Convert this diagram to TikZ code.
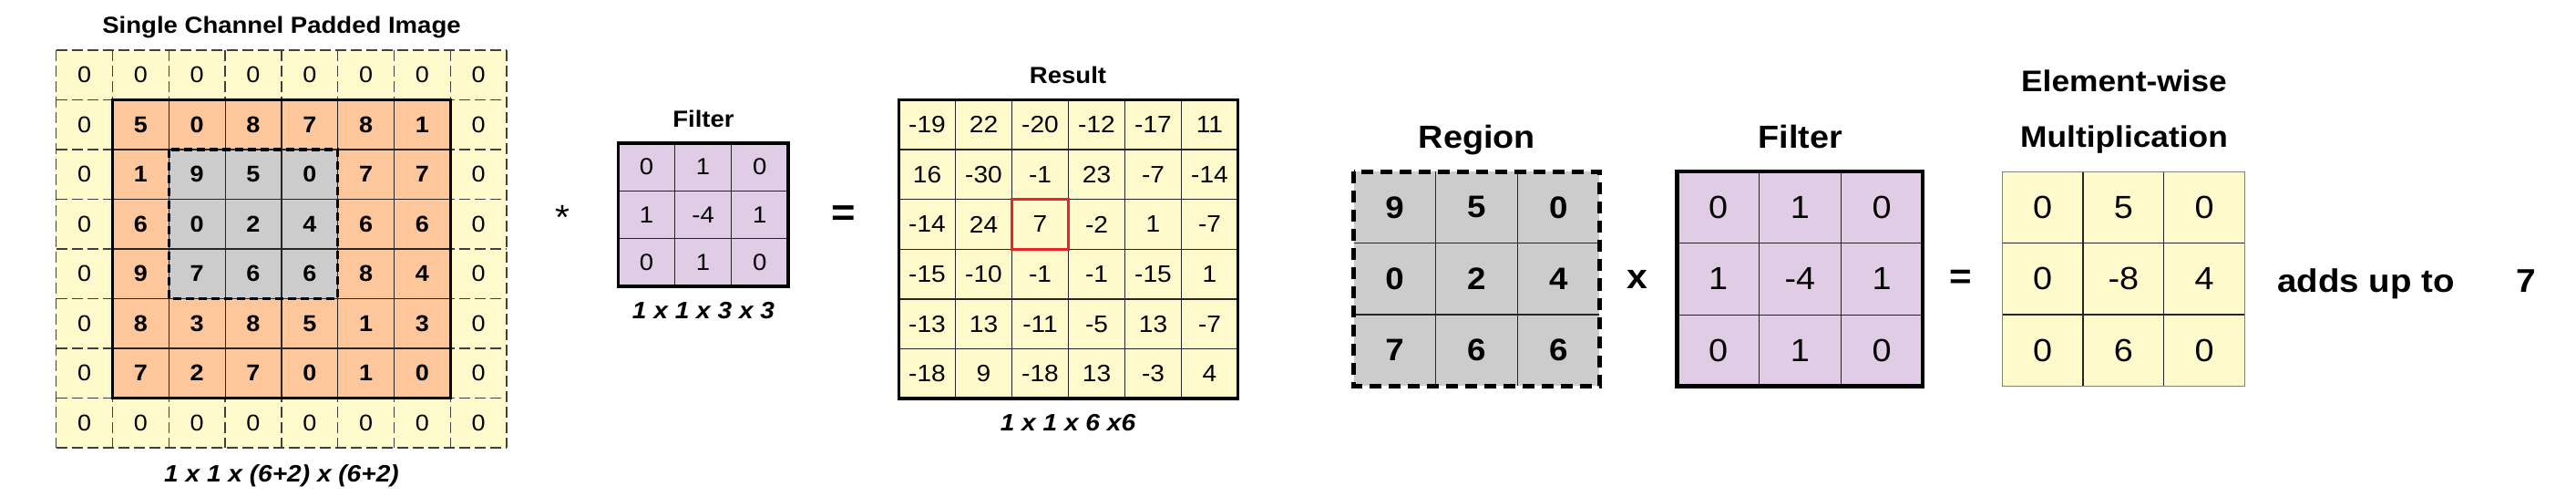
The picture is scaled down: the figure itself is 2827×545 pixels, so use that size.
\documentclass[tikz,border=0pt]{standalone}
\usepackage{fontspec}
\setmainfont{Liberation Sans}[FakeStretch=1.08]
\definecolor{padyellow}{HTML}{FFFACC}
\definecolor{imgorange}{HTML}{FDC79B}
\definecolor{regiongray}{HTML}{CCCCCC}
\definecolor{filterpurple}{HTML}{E0CCE4}
\definecolor{hired}{HTML}{E8262A}
\begin{document}
\begin{tikzpicture}[x=1pt,y=-1pt,
  num/.style={inner sep=0pt, font=\fontsize{25}{30}\selectfont},
  bnum/.style={inner sep=0pt, font=\fontsize{25}{30}\selectfont\bfseries},
  snum/.style={inner sep=0pt, font=\fontsize{25.5}{30}\selectfont},
  rnum/.style={inner sep=0pt, font=\fontsize{26}{30}\selectfont},
  bignum/.style={inner sep=0pt, font=\fontsize{35}{40}\selectfont},
  bigbnum/.style={inner sep=0pt, font=\bfseries\fontsize{34}{40}\selectfont},
  title/.style={inner sep=0pt, anchor=base, font=\bfseries\fontsize{25.5}{30}\selectfont},
  dims/.style={inner sep=0pt, anchor=base, font=\bfseries\itshape\fontsize{26}{30}\selectfont},
  bigtitle/.style={inner sep=0pt, anchor=base, font=\bfseries\fontsize{35}{40}\selectfont},
  ewtitle/.style={inner sep=0pt, anchor=base, font=\bfseries\fontsize{32.7}{40}\selectfont},
  padline/.style={draw=black!75, line width=1.4pt, dash pattern=on 12pt off 5pt},
  thinline/.style={draw=black!85, line width=1.2pt},
  thickborder/.style={draw=black, line width=3.5pt},
  regionborder/.style={draw=black, line width=3.5pt, dash pattern=on 9pt off 5pt},
  bigregionborder/.style={draw=black, line width=5pt, dash pattern=on 13pt off 8pt},
  bigborder/.style={draw=black, line width=4.7pt},
  opsign/.style={inner sep=0pt}
]
\useasboundingbox (0,0) rectangle (2827,545);

% ---------------- padded image ----------------
\node[title] (padtitle) at (309,36.5) {Single Channel Padded Image};
\begin{scope}[shift={(61.7pt,-55pt)}, x=61.8pt, y=-54.5pt]
  \fill[padyellow] (0,0) rectangle (8,8);
  \foreach \i in {0,...,8} {
    \draw[padline] (0,\i) -- (8,\i);
    \draw[padline] (\i,0) -- (\i,8);
  }
  \fill[imgorange] (1,1) rectangle (7,7);
  \fill[regiongray] (2,2) rectangle (5,5);
  \foreach \i in {2,...,6} {
    \draw[thinline] (1,\i) -- (7,\i);
    \draw[thinline] (\i,1) -- (\i,7);
  }
  \draw[thickborder] (1,1) rectangle (7,7);
  \draw[regionborder] (2,2) rectangle (5,5);
  \foreach \i in {0,...,7} {
    \node[num] (pad-0-\i) at (\i+0.5,0.5) {0};
    \node[num] (pad-7-\i) at (\i+0.5,7.5) {0};
  }
  \foreach \i in {1,...,6} {
    \node[num] (pad-\i-0) at (0.5,\i+0.5) {0};
    \node[num] (pad-\i-7) at (7.5,\i+0.5) {0};
  }
  \foreach \row [count=\r] in {{5,0,8,7,8,1},{1,9,5,0,7,7},{6,0,2,4,6,6},{9,7,6,6,8,4},{8,3,8,5,1,3},{7,2,7,0,1,0}} {
    \foreach \v [count=\c] in \row {
      \node[bnum] (pad-\r-\c) at (\c+0.5,\r+0.5) {\v};
    }
  }
\end{scope}
\node[dims] (paddims) at (309,528) {1 x 1 x (6+2) x (6+2)};

% ---------------- operator * ----------------
\node[opsign, font=\fontsize{38}{44}\selectfont] (star) at (617,238) {*};

% ---------------- small filter ----------------
\node[title] (filtertitle) at (772,140) {Filter};
\begin{scope}[shift={(678.3pt,-157pt)}, x=62.2pt, y=-52.4pt]
  \fill[filterpurple] (0,0) rectangle (3,3);
  \foreach \i in {1,2} {
    \draw[thinline] (0,\i) -- (3,\i);
    \draw[thinline] (\i,0) -- (\i,3);
  }
  \draw[thickborder] (0,0) rectangle (3,3);
  \foreach \row [count=\r from 0] in {{0,1,0},{1,-4,1},{0,1,0}} {
    \foreach \v [count=\c from 0] in \row {
      \node[snum] (sf-\r-\c) at (\c+0.5,\r+0.5) {\v};
    }
  }
\end{scope}
\node[dims] (filterdims) at (772,349) {1 x 1 x 3 x 3};

% ---------------- operator = ----------------
\node[opsign, font=\bfseries\fontsize{42}{48}\selectfont] (eq1) at (926,237) {=};

% ---------------- result ----------------
\node[title] (resulttitle) at (1172,92) {Result};
\begin{scope}[shift={(986.5pt,-109.5pt)}, x=62pt, y=-54.6pt]
  \fill[padyellow] (0,0) rectangle (6,6);
  \foreach \i in {1,...,5} {
    \draw[thinline] (0,\i) -- (6,\i);
    \draw[thinline] (\i,0) -- (\i,6);
  }
  \draw[thickborder] (0,0) rectangle (6,6);
  \foreach \row [count=\r from 0] in {{-19,22,-20,-12,-17,11},{16,-30,-1,23,-7,-14},{-14,24,7,-2,1,-7},{-15,-10,-1,-1,-15,1},{-13,13,-11,-5,13,-7},{-18,9,-18,13,-3,4}} {
    \foreach \v [count=\c from 0] in \row {
      \node[rnum] (res-\r-\c) at (\c+0.5,\r+0.5) {\v};
    }
  }
  \draw[draw=hired, line width=3pt] (2,2) rectangle (3,3);
\end{scope}
\node[dims] (resultdims) at (1172,472) {1 x 1 x 6 x6};

% ---------------- region ----------------
\node[bigtitle] (regiontitle) at (1620.8,162.7) {Region};
\begin{scope}[shift={(1485.7pt,-188.3pt)}, x=89.8pt, y=-78.3pt]
  \fill[regiongray] (0,0) rectangle (3,3);
  \foreach \i in {1,2} {
    \draw[thinline] (0,\i) -- (3,\i);
    \draw[thinline] (\i,0) -- (\i,3);
  }
  \draw[bigregionborder] (0,0) rectangle (3,3);
  \foreach \row [count=\r from 0] in {{9,5,0},{0,2,4},{7,6,6}} {
    \foreach \v [count=\c from 0] in \row {
      \node[bigbnum] (reg-\r-\c) at (\c+0.5,\r+0.5) {\v};
    }
  }
\end{scope}

\node[opsign, font=\bfseries\fontsize{38}{44}\selectfont] (times) at (1797,306) {x};

% ---------------- big filter ----------------
\node[bigtitle] (bigfiltertitle) at (1976,163) {Filter};
\begin{scope}[shift={(1840.7pt,-188pt)}, x=89.8pt, y=-78.6pt]
  \fill[filterpurple] (0,0) rectangle (3,3);
  \foreach \i in {1,2} {
    \draw[thinline] (0,\i) -- (3,\i);
    \draw[thinline] (\i,0) -- (\i,3);
  }
  \draw[bigborder] (0,0) rectangle (3,3);
  \foreach \row [count=\r from 0] in {{0,1,0},{1,-4,1},{0,1,0}} {
    \foreach \v [count=\c from 0] in \row {
      \node[bignum] (bf-\r-\c) at (\c+0.5,\r+0.5) {\v};
    }
  }
\end{scope}

\node[opsign, font=\bfseries\fontsize{39}{44}\selectfont] (eq2) at (2151.7,306) {=};

% ---------------- element-wise ----------------
\node[ewtitle] (ewtitle1) at (2331,101) {Element-wise};
\node[ewtitle] (ewtitle2) at (2331,161.7) {Multiplication};
\begin{scope}[shift={(2197.3pt,-188.3pt)}, x=88.7pt, y=-78.3pt]
  \fill[padyellow] (0,0) rectangle (3,3);
  \foreach \i in {1,2} {
    \draw[thinline] (0,\i) -- (3,\i);
    \draw[thinline] (\i,0) -- (\i,3);
  }
  \draw[draw=black!50, line width=1.2pt] (0,0) rectangle (3,3);
  \foreach \row [count=\r from 0] in {{0,5,0},{0,-8,4},{0,6,0}} {
    \foreach \v [count=\c from 0] in \row {
      \node[bignum] (ew-\r-\c) at (\c+0.5,\r+0.5) {\v};
    }
  }
\end{scope}

\node[inner sep=0pt, anchor=base west, font=\bfseries\fontsize{35.6}{40}\selectfont] (adds) at (2499,320) {adds up to};
\node[inner sep=0pt, anchor=base, font=\bfseries\fontsize{36}{40}\selectfont] (sum) at (2772.5,320) {7};
\end{tikzpicture}
\end{document}
